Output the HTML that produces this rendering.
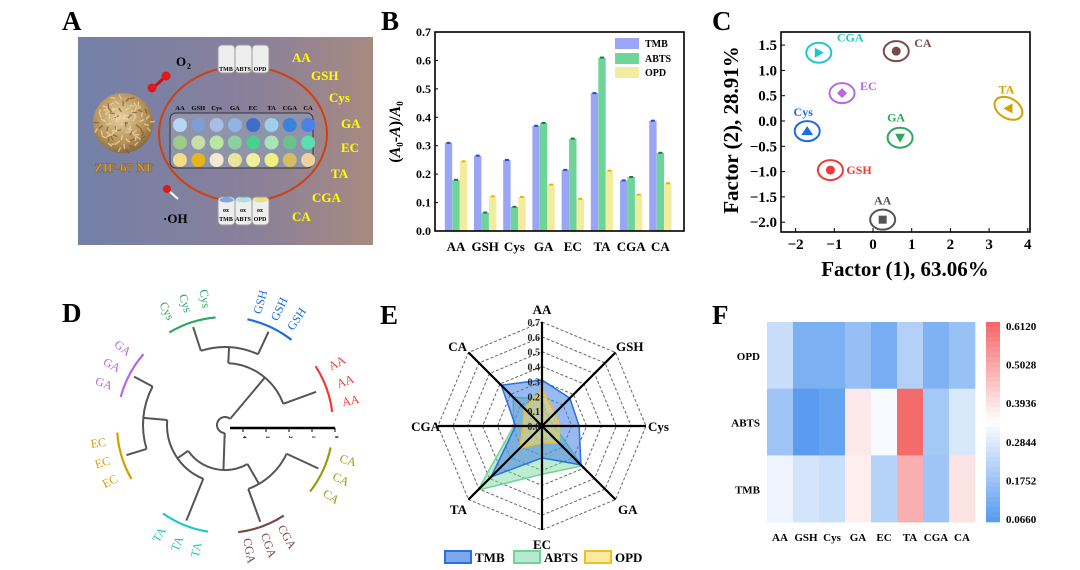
<!DOCTYPE html>
<html><head><meta charset="utf-8">
<style>
html,body{margin:0;padding:0;background:#fff;}
svg{display:block;}
text{font-family:"Liberation Serif",serif;font-weight:bold;}
</style></head>
<body>
<svg id="s" width="1080" height="570" viewBox="0 0 1080 570" xmlns="http://www.w3.org/2000/svg">
<defs>
<linearGradient id="ga" x1="0" x2="1" y1="0" y2="0">
<stop offset="0" stop-color="#7380a8"/><stop offset="0.6" stop-color="#8a809a"/><stop offset="1" stop-color="#a88a80"/>
</linearGradient>
<radialGradient id="zif" cx="0.45" cy="0.4" r="0.6">
<stop offset="0" stop-color="#e8d0a0"/><stop offset="0.7" stop-color="#b8935a"/><stop offset="1" stop-color="#8a6a40"/>
</radialGradient>
</defs>
</svg>
<script>
var s=document.getElementById('s');var h='';
function T(x,y,t,sz,col,anc,extra){return '<text x="'+x+'" y="'+y+'" font-size="'+sz+'" fill="'+(col||'#000')+'" text-anchor="'+(anc||'start')+'" '+(extra||'')+'>'+t+'</text>';}
[['A',62,30],['B',381,30],['C',712,30],['D',62,322],['E',380,324],['F',712,324]].forEach(function(l){h+=T(l[1],l[2],l[0],27,'#000');});
// ---------- Panel A
h+='<rect x="78" y="37" width="295" height="208" fill="url(#ga)"/>';
h+='<circle cx="123" cy="123" r="30" fill="url(#zif)"/>';
for(var i=0;i<90;i++){var a=i*2.39996,r=Math.sqrt(i/90)*27;var x0=123+r*Math.cos(a),y0=123+r*Math.sin(a);h+='<line x1="'+x0+'" y1="'+y0+'" x2="'+(x0+5*Math.cos(a*5))+'" y2="'+(y0+5*Math.sin(a*5))+'" stroke="'+(i%3?'#f0dca8':'#7a5a30')+'" stroke-width="1.3" opacity="0.75"/>';}
h+=T(124,172,'ZIF-67 NF',13,'#e0a020','middle','font-family="Liberation Sans" stroke="#8a5a10" stroke-width="0.4"');
h+='<ellipse cx="243" cy="134" rx="84" ry="68" fill="none" stroke="#d04010" stroke-width="2"/>';
h+='<rect x="200" y="40" width="80" height="38" fill="url(#ga)" opacity="0"/>';
h+='<rect x="170" y="113" width="143" height="55" rx="6" fill="#8f94aa" stroke="#333" stroke-width="1"/>';
var lab=['AA','GSH','Cys','GA','EC','TA','CGA','CA'];
var rows=[['#b8d4ef','#7f9ed8','#a8bde6','#8fb5e3','#3f6cc8','#9fd0ea','#3a84dc','#4a82e6'],['#9ccb8a','#c4e0a8','#b8e8a0','#8ccfa0','#48d08c','#a8e4b8','#6cc08a','#58e0b0'],['#f2dc8c','#e8b41c','#f4ead0','#eae39a','#f0ef9c','#f2f080','#d4bc60','#f0d09c']];
for(var c=0;c<8;c++){var x=180+c*18.3;h+=T(x,110,lab[c],6.5,'#000','middle','font-family="Liberation Sans"');for(var r=0;r<3;r++)h+='<circle cx="'+x+'" cy="'+(125+r*17.5)+'" r="7" fill="'+rows[r][c]+'"/>';}
[['TMB',226],['ABTS',243],['OPD',260]].forEach(function(v){h+='<rect x="'+(v[1]-8)+'" y="45" width="17" height="28" rx="4" fill="#eee" stroke="#999"/>'+T(v[1],71,v[0],6,'#000','middle','font-family="Liberation Sans"');
h+='<rect x="'+(v[1]-8)+'" y="197" width="17" height="28" rx="4" fill="#eee" stroke="#999"/>'+T(v[1],221,v[0],6,'#000','middle','font-family="Liberation Sans"')+T(v[1],212,'ox',6,'#000','middle','font-family="Liberation Sans"');});
h+='<ellipse cx="226.5" cy="200" rx="7" ry="2.5" fill="#7aa8e0"/><ellipse cx="243.5" cy="200" rx="7" ry="2.5" fill="#a8e0e0"/><ellipse cx="260.5" cy="200" rx="7" ry="2.5" fill="#e8e080"/>';
h+=T(176,66,'O',13,'#000','start','font-family="Liberation Sans"')+T(187,69,'2',8,'#000','start','font-family="Liberation Sans"');
h+='<line x1="153" y1="88" x2="165" y2="77" stroke="#d01010" stroke-width="3"/><circle cx="152" cy="88" r="4.5" fill="#e01818"/><circle cx="166" cy="76" r="4.5" fill="#e01818"/>';
h+='<line x1="168" y1="190" x2="178" y2="199" stroke="#fff" stroke-width="2"/><circle cx="167" cy="189" r="4" fill="#e01818"/>';
h+=T(163,223,'·OH',13,'#000','start','font-family="Liberation Sans"');
[['AA',292,62],['GSH',311,80],['Cys',329,102],['GA',341,128],['EC',341,152],['TA',331,178],['CGA',312,202],['CA',292,221]].forEach(function(v){h+=T(v[1],v[2],v[0],13,'#ffff00','start','font-family="Liberation Sans"');});
// ---------- Panel B
var X0=435,X1=684,Y0=231,Y1=32,sy=(Y0-Y1)/0.7;
var tm=[.31,.265,.25,.37,.215,.485,.178,.388],ab=[.18,.065,.085,.38,.325,.61,.19,.275],op=[.245,.122,.12,.163,.113,.212,.128,.168];
for(var g=0;g<8;g++){var cx=456+g*29.2;
[[tm,'#9aa5f5','#2050b0',-7.5],[ab,'#6fd49a','#207a40',0],[op,'#f2ec9f','#f0b000',7.5]].forEach(function(b){var v=b[0][g],y=Y0-v*sy;h+='<rect x="'+(cx+b[3]-3.7)+'" y="'+y+'" width="7.4" height="'+(Y0-y)+'" fill="'+b[1]+'"/><line x1="'+(cx+b[3]-2)+'" x2="'+(cx+b[3]+2)+'" y1="'+y+'" y2="'+y+'" stroke="'+b[2]+'" stroke-width="2"/>';});
h+=T(cx,251,lab[g],13,'#000','middle');}
h+='<rect x="'+X0+'" y="'+Y1+'" width="'+(X1-X0)+'" height="'+(Y0-Y1)+'" fill="none" stroke="#000" stroke-width="1.6"/>';
for(var k=0;k<=7;k++){var y=Y0-k*0.1*sy;h+='<line x1="'+X0+'" x2="'+(X0+3)+'" y1="'+y+'" y2="'+y+'" stroke="#000"/>'+T(431,y+4,(k/10).toFixed(1),12,'#000','end');}
h+=T(0,0,'(<tspan font-style="italic">A</tspan><tspan font-size="9" dy="3">0</tspan><tspan dy="-3">-</tspan><tspan font-style="italic">A</tspan>)/<tspan font-style="italic">A</tspan><tspan font-size="9" dy="3">0</tspan>',16,'#000','middle','transform="translate(400,132) rotate(-90)"');
[['TMB','#9aa5f5',43],['ABTS','#6fd49a',58],['OPD','#f2ec9f',72]].forEach(function(v){h+='<rect x="615" y="'+(v[2]-5)+'" width="24" height="11" fill="'+v[1]+'"/>'+T(645,v[2]+4,v[0],10,'#000');});
// ---------- Panel C
var cX=function(v){return 873+v*38.7},cY=function(v){return 121-v*50.6};
h+='<rect x="781" y="32" width="249" height="200" fill="none" stroke="#000" stroke-width="1.6"/>';
for(var k=-2;k<=4;k++){var x=cX(k);h+='<line x1="'+x+'" x2="'+x+'" y1="232" y2="228" stroke="#000"/>'+T(x,249,(k<0?'\u2212'+(-k):k),15,'#000','middle');}
for(var k=-4;k<=3;k++){var v=k/2,y=cY(v);h+='<line x1="781" x2="785" y1="'+y+'" y2="'+y+'" stroke="#000"/>'+T(777,y+5,(v<0?'\u2212'+(-v).toFixed(1):v.toFixed(1)),15,'#000','end');}
h+=T(905,276,'Factor (1), 63.06%',21,'#000','middle');
h+=T(0,0,'Factor (2), 28.91%',21,'#000','middle','transform="translate(738,130) rotate(-90)"');
[['CGA',-1.4,1.35,'#1ec8c8','tr',0],['CA',0.6,1.38,'#7a4a4a','c',0],['EC',-0.8,0.55,'#b56ae0','d',0],['TA',3.5,0.25,'#d4a000','tl',30],['Cys',-1.7,-0.2,'#1a6ee0','t',0],['GA',0.7,-0.33,'#2aa860','td',0],['GSH',-1.1,-0.97,'#f03a3a','c',0],['AA',0.25,-1.95,'#555','s',0]].forEach(function(p){var x=cX(p[1]),y=cY(p[2]);
h+='<ellipse cx="'+x+'" cy="'+y+'" rx="'+(p[0]=='TA'?15:12.5)+'" ry="10" fill="none" stroke="'+p[3]+'" stroke-width="2" transform="rotate('+p[5]+' '+x+' '+y+')"/>';
var m=p[4];
if(m=='c')h+='<circle cx="'+x+'" cy="'+y+'" r="4.5" fill="'+p[3]+'"/>';
else if(m=='s')h+='<rect x="'+(x-4)+'" y="'+(y-4)+'" width="8" height="8" fill="'+p[3]+'"/>';
else if(m=='d')h+='<polygon points="'+x+','+(y-5)+' '+(x+5)+','+y+' '+x+','+(y+5)+' '+(x-5)+','+y+'" fill="'+p[3]+'"/>';
else if(m=='tr')h+='<polygon points="'+(x-4)+','+(y-5)+' '+(x+5)+','+y+' '+(x-4)+','+(y+5)+'" fill="'+p[3]+'"/>';
else if(m=='tl')h+='<polygon points="'+(x+4)+','+(y-5)+' '+(x-5)+','+y+' '+(x+4)+','+(y+5)+'" fill="'+p[3]+'"/>';
else if(m=='t')h+='<polygon points="'+(x-6)+','+(y+4)+' '+x+','+(y-5)+' '+(x+6)+','+(y+4)+'" fill="'+p[3]+'"/>';
else h+='<polygon points="'+(x-5)+','+(y-4)+' '+(x+5)+','+(y-4)+' '+x+','+(y+5)+'" fill="'+p[3]+'"/>';
var lx={CGA:[x+18,y-11],CA:[x+18,y-4],EC:[x+18,y-3],TA:[x-2,y-15],Cys:[x-4,y-15],GA:[x-4,y-16],GSH:[x+16,y+4],AA:[x,y-15]}[p[0]];
h+=T(lx[0],lx[1],p[0],12,p[3],(p[0]=='Cys'||p[0]=='GA'||p[0]=='AA'||p[0]=='TA')?'middle':'start');});
// ---------- Panel D
var dx=225,dy=425;function P(r,a){a=a*Math.PI/180;return [dx+r*Math.cos(a),dy-r*Math.sin(a)];}
function arc(r,a1,a2,col,w){var p1=P(r,a1),p2=P(r,a2);return '<path d="M'+p1[0]+' '+p1[1]+' A'+r+' '+r+' 0 '+((a2-a1)>180?1:0)+' 0 '+p2[0]+' '+p2[1]+'" fill="none" stroke="'+col+'" stroke-width="'+(w||2)+'"/>';}
function rad(a,r1,r2){var p1=P(r1,a),p2=P(r2,a);return '<line x1="'+p1[0]+'" y1="'+p1[1]+'" x2="'+p2[0]+'" y2="'+p2[1]+'" stroke="#555" stroke-width="2"/>';}
var gc='#555';
h+=arc(8,50,268,gc);
h+=rad(50,8,62)+arc(62,20,87,gc)+rad(20,62,97)+rad(87,62,78)+arc(78,65,108,gc)+rad(65,78,103)+rad(108,78,103);
h+=rad(268,8,45)+arc(45,215,300,gc)+rad(300,45,68)+arc(68,290,335,gc)+rad(290,68,103)+rad(335,68,103);
h+=rad(215,45,58)+arc(58,175,248,gc)+rad(248,58,103)+rad(175,58,82)+arc(82,152,197,gc)+rad(152,82,103)+rad(197,82,103);
var gcol={AA:'#f03a3a',GSH:'#1a6ee0',Cys:'#2aa860',GA:'#b56ae0',EC:'#d4a000',TA:'#1ec8c8',CGA:'#7a4a4a',CA:'#9a9a10'};
var ang={AA:20,GSH:65,Cys:108,GA:152,EC:197,TA:248,CGA:290,CA:335};
lab.forEach(function(n){var a=ang[n];h+=arc(108,a-13,a+13,gcol[n],2.2);
[-9,0,9].forEach(function(o){var p=P(128,a+o);var rot=-(a+o);if((a+o)>90&&(a+o)<270)rot+=180;h+=T(p[0],p[1]+4,n,12,gcol[n],'middle','style="font-weight:normal" transform="rotate('+rot+' '+p[0]+' '+p[1]+')"');});});
h+='<line x1="230" y1="428" x2="335" y2="428" stroke="#000" stroke-width="2.5"/>';
[0,1,2,3,4].forEach(function(i){var x=335-i*23;h+='<line x1="'+x+'" x2="'+x+'" y1="428" y2="432" stroke="#000"/>'+T(x,437,i,5,'#000','middle','transform="rotate(90 '+x+' 437)"');});
// ---------- Panel E
var ex=542,ey=426,R=104/0.7;function E(v,i){var a=(90-i*45)*Math.PI/180;return [ex+v*R*Math.cos(a),ey-v*R*Math.sin(a)];}
for(var k=1;k<=7;k++){var pts=[];for(var i=0;i<8;i++)pts.push(E(k/10,i).join(','));h+='<polygon points="'+pts.join(' ')+'" fill="none" stroke="#666" stroke-dasharray="3 2" stroke-width="1"/>';}
[[ab,'rgba(111,212,154,0.45)','#6fd49a'],[tm,'rgba(70,130,230,0.55)','#2a70e0'],[op,'rgba(250,220,100,0.55)','#f0c020']].forEach(function(d){var pts=[];for(var i=0;i<8;i++)pts.push(E(d[0][i],i).join(','));h+='<polygon points="'+pts.join(' ')+'" fill="'+d[1]+'" stroke="'+d[2]+'" stroke-width="1.5"/>';});
for(var i=0;i<4;i++){var p1=E(0.7,i),p2=E(0.7,i+4);h+='<line x1="'+p1[0]+'" y1="'+p1[1]+'" x2="'+p2[0]+'" y2="'+p2[1]+'" stroke="#000" stroke-width="2.2"/>';}
for(var k=0;k<=7;k++)h+=T(ex-2,ey-k*0.1*R+4,(k/10).toFixed(1),10,'#222','end');
[['AA',542,314,'middle'],['GSH',616,351,'start'],['Cys',648,431,'start'],['GA',618,514,'start'],['EC',542,549,'middle'],['TA',467,514,'end'],['CGA',440,431,'end'],['CA',467,351,'end']].forEach(function(v){h+=T(v[1],v[2],v[0],13,'#000',v[3]);});
[['TMB','rgba(70,130,230,0.7)','#2a70e0',445],['ABTS','rgba(111,212,154,0.5)','#6fd49a',514],['OPD','rgba(250,220,100,0.6)','#f0c020',585]].forEach(function(v){h+='<rect x="'+v[3]+'" y="551" width="26" height="12" fill="'+v[1]+'" stroke="'+v[2]+'" stroke-width="2"/>'+T(v[3]+30,562,v[0],13,'#000');});
// ---------- Panel F
function cm(v){var lo=[91,156,240],mid=[255,255,255],hi=[244,106,106],t,a,b;if(v<0.339){t=(v-0.066)/(0.339-0.066);a=lo;b=mid;}else{t=(v-0.339)/(0.612-0.339);a=mid;b=hi;}t=Math.max(0,Math.min(1,t));return 'rgb('+[0,1,2].map(function(j){return Math.round(a[j]+(b[j]-a[j])*t)}).join(',')+')';}
var fr=[op,ab,tm],fl=['OPD','ABTS','TMB'];
for(var r=0;r<3;r++){for(var c=0;c<8;c++)h+='<rect x="'+(767+c*26)+'" y="'+(322+r*66.7)+'" width="26.3" height="67" fill="'+cm(fr[r][c])+'"/>';h+=T(760,322+r*66.7+38,fl[r],11,'#000','end');}
for(var c=0;c<8;c++)h+=T(780+c*26,541,lab[c],11,'#000','middle');
for(var i=0;i<40;i++){var v=0.066+(39-i)/39*(0.612-0.066);h+='<rect x="986" y="'+(322+i*5)+'" width="14" height="5.3" fill="'+cm(v)+'"/>';}
['0.6120','0.5028','0.3936','0.2844','0.1752','0.0660'].forEach(function(t,i){h+=T(1006,330+i*38.6,t,11,'#000');});
s.insertAdjacentHTML('beforeend',h);
</script>
</body></html>
